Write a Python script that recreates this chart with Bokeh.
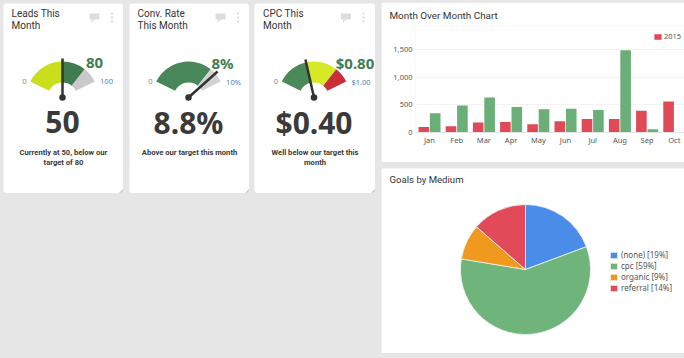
from bokeh.embed import file_html
from bokeh.resources import INLINE
from bokeh.plotting import figure
from bokeh.layouts import row, column
from bokeh.models import Range1d, FixedTicker, NumeralTickFormatter, Label, Legend, LegendItem
from bokeh.core.properties import value
import math

FONT = "Noto Sans"
TITLE_FONT = "Roboto"
PAGE = "#e6e6e6"
INK = "#3a3a3a"

# gauge cards
card_titles = [["Leads This", "Month"], ["Conv. Rate", "This Month"], ["CPC This", "Month"]]
card_maxes = [100, 10, 1.0]
card_values = [50, 8.8, 0.40]
card_value_labels = ["50", "8.8%", "$0.40"]
card_targets = ["80", "8%", "$0.80"]
card_max_labels = ["100", "10%", "$1.00"]
card_notes = [["Currently at 50, below our", "target of 80"], ["Above our target this month"], ["Well below our target this", "month"]]
card1_bands = [50, 80, 100]
card2_bands = [8, 10]
card3_bands = [0.40, 0.80, 1.0]
card1_colors = ["#c9df1c", "#3f7d50", "#c9c9c9"]
card2_colors = ["#47875a", "#d2d2d2"]
card3_colors = ["#4a8a58", "#d6e826", "#c92f3a"]

# bar chart
months = ["Jan", "Feb", "Mar", "Apr", "May", "Jun", "Jul", "Aug", "Sep", "Oct"]
series_2015 = [100, 113, 178, 190, 149, 202, 244, 244, 393, 560]
series_next = [345, 488, 631, 458, 417, 428, 405, 1482, 60, 0]

# pie chart
pie_labels = ["(none) [19%]", "cpc [59%]", "organic [9%]", "referral [14%]"]
pie_values = [19.3, 58.3, 8.8, 13.6]
pie_colors = ["#4a8de8", "#6fb47b", "#ef9a1f", "#e14b59"]

SWEEP_START = math.radians(153.5)
SWEEP = math.radians(127)


def gauge_card(i, bands, colors, width, target_dx, max_dx, title_dx):
    hub_x, hub_y = 59 + (width - 120) / 2, 94
    p = figure(width=width, height=190, output_backend="svg", toolbar_location=None,
               x_range=Range1d(-hub_x, width - hub_x), y_range=Range1d(-96, hub_y),
               min_border=0, outline_line_color=None, background_fill_color="white",
               border_fill_color="white", styles={"border-radius": "4px", "overflow": "hidden"})
    p.axis.visible = False
    p.grid.visible = False
    top = card_maxes[i]
    low = 0
    for b, c in zip(bands, colors):
        p.annular_wedge(x=[0], y=[0], inner_radius=15, outer_radius=36,
                        start_angle=SWEEP_START - SWEEP * low / top,
                        end_angle=SWEEP_START - SWEEP * b / top,
                        direction="clock", fill_color=c, line_color=None)
        low = b
    ang = SWEEP_START - SWEEP * card_values[i] / top
    p.segment(x0=[0], y0=[0], x1=[39 * math.cos(ang)], y1=[39 * math.sin(ang)],
              line_color="#333333", line_width=2.5)
    p.scatter(x=[0], y=[0], size=6.5, fill_color="#333333", line_color=None)

    def put(x, y, text, size, color=INK, style="normal", align="center", font=FONT):
        p.text(x=[x], y=[y], text=[text], text_font=value(font), text_font_size=f"{size}px",
               text_color=color, text_font_style=style, text_align=align, text_baseline="middle")

    put(title_dx, 84, card_titles[i][0], 10, "#333333", "normal", "left", TITLE_FONT)
    put(title_dx, 72, card_titles[i][1], 10, "#333333", "normal", "left", TITLE_FONT)
    put(target_dx, 35, card_targets[i], 15, "#3f7d50", "bold")
    put(max_dx, 16, card_max_labels[i], 7.5, "#4f7fc0")
    put(-38, 16, "0", 7.5, "#888888")
    put(0, -24.5, card_value_labels[i], 30, "#3a3a3a", "bold")
    ys = [-55, -65]
    for line, y in zip(card_notes[i], ys):
        put(1, y, line, 7.6, "#3a3a3a", "bold", "center", TITLE_FONT)
    # comment bubble, menu dots, resize corner
    p.quad(left=[27], right=[37], bottom=[78], top=[84], fill_color="#dddddd", line_color=None)
    p.patch(x=[29, 33, 29], y=[78, 78, 75], fill_color="#dddddd", line_color=None)
    p.scatter(x=[49.5] * 3, y=[84, 80, 76], size=2, fill_color="#cfcfcf", line_color=None)
    p.patch(x=[width - hub_x, width - hub_x, width - hub_x - 5], y=[-96 + 5, -96, -96],
            fill_color="#c4c4c4", line_color=None)
    return p


card1 = gauge_card(0, card1_bands, card1_colors, 120, 32, 44, -51)
card2 = gauge_card(1, card2_bands, card2_colors, 120, 34, 45, -51)
card3 = gauge_card(2, card3_bands, card3_colors, 121, 41, 47, -51)
card1.margin = (3, 0, 0, 3)
card2.margin = (3, 0, 0, 6)
card3.margin = (3, 0, 0, 5)

# bar chart card
bar = figure(width=303, height=160, output_backend="svg", toolbar_location=None,
             x_range=Range1d(-0.515, 9.375), y_range=Range1d(0, 1928.6),
             min_border_left=34, min_border_right=0, min_border_top=22, min_border_bottom=30,
             outline_line_color=None, border_fill_color="white", margin=(2, 0, 0, 0))
idx = list(range(len(months)))
r15 = bar.vbar(x=[i - 0.21 for i in idx], top=series_2015, width=0.39, fill_color="#e04a58", line_color=None)
bar.vbar(x=[i + 0.21 for i in idx], top=series_next, width=0.39, fill_color="#6aae78", line_color=None)
bar.xaxis.ticker = FixedTicker(ticks=idx)
bar.xaxis.major_label_overrides = {i: m for i, m in zip(idx, months)}
bar.yaxis.ticker = FixedTicker(ticks=[0, 500, 1000, 1500])
bar.yaxis.formatter = NumeralTickFormatter(format="0,0")
bar.axis.major_label_text_font = FONT
bar.axis.major_label_text_font_size = "7.5px"
bar.axis.major_label_text_color = "#555555"
bar.axis.major_tick_line_color = None
bar.axis.minor_tick_line_color = None
bar.axis.major_tick_out = 0
bar.axis.major_tick_in = 0
bar.yaxis.major_label_standoff = 3
bar.xaxis.major_label_standoff = 2
bar.yaxis.axis_line_color = None
bar.xaxis.axis_line_color = "#e4e4e4"
bar.xgrid.visible = False
bar.ygrid.grid_line_color = "#f2f2f2"
bar.title.text = "Month Over Month Chart"
bar.title.text_font = TITLE_FONT
bar.title.text_font_size = "9.9px"
bar.title.text_font_style = "normal"
bar.title.text_color = "#333333"
bar.title.align = "left"
bar.title.offset = -26
bar.title.standoff = 10
leg = Legend(items=[LegendItem(label="2015", renderers=[r15])], location=(238, 91), border_line_color=None,
             background_fill_alpha=0, label_text_font=FONT, label_text_font_size="7.5px", label_text_color="#555555",
             glyph_width=9, glyph_height=7, padding=0, margin=0, label_standoff=2)
bar.add_layout(leg)

# pie card
pie = figure(width=303, height=185, output_backend="svg", toolbar_location=None,
             x_range=Range1d(-144, 159), y_range=Range1d(-84, 101),
             min_border=0, outline_line_color=None, border_fill_color="white", margin=(6, 0, 0, 0))
pie.axis.visible = False
pie.grid.visible = False
total = sum(pie_values)
angle = math.pi / 2
pie_items = []
for lab, val, col in zip(pie_labels, pie_values, pie_colors):
    nxt = angle - 2 * math.pi * val / total
    r = pie.wedge(x=[0], y=[0], radius=65, start_angle=angle, end_angle=nxt, direction="clock",
                  fill_color=col, line_color="#f4f4f4", line_width=0.8)
    pie_items.append(LegendItem(label=lab, renderers=[r]))
    angle = nxt
pie.add_layout(Label(x=8, y=174, x_units="screen", y_units="screen", text="Goals by Medium",
                     text_font=TITLE_FONT, text_font_size="9.6px", text_color="#333333", text_baseline="middle"))
pl = Legend(items=pie_items, location=(228, 60), border_line_color=None, background_fill_alpha=0,
            label_text_font=FONT, label_text_font_size="8px", label_text_color="#555555",
            glyph_width=9, glyph_height=8, padding=0, margin=0, spacing=0, label_standoff=3, label_height=8)
pie.add_layout(pl)

right = column(row(bar), row(pie), width=303, height=358, spacing=0, margin=(0, 0, 0, 6))
root = row(card1, card2, card3, right, width=684, height=358, spacing=0,
           margin=(0, 0, 0, 0), styles={"background-color": PAGE})
open("out.html", "w").write(file_html(root, INLINE))
